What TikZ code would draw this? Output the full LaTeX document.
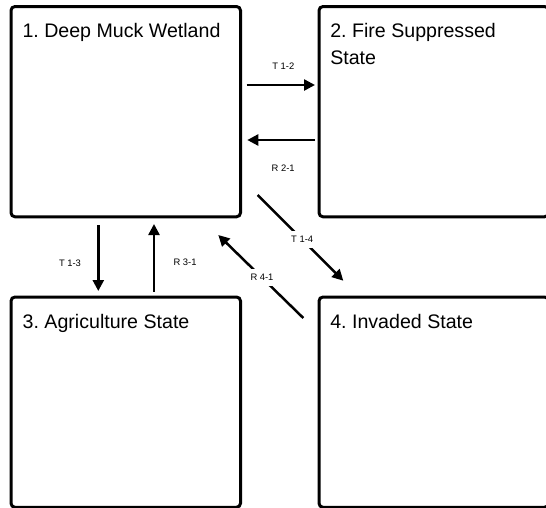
\documentclass[tikz,border=0pt]{standalone}
\usepackage{fontspec}
\setmainfont{Liberation Sans}
\usetikzlibrary{arrows.meta}
\frenchspacing
\begin{document}
\begin{tikzpicture}[x=1pt,y=-1pt,
 statebox/.style={draw=black, line width=3pt, rounded corners=4pt, minimum width=229.5pt, minimum height=210.3pt, inner sep=0pt, outer sep=0pt},
 titletext/.style={anchor=base west, inner sep=0pt, font=\fontsize{19.6}{26.7}\selectfont, align=left},
 conn/.style={line width=2.5pt, -{Triangle[length=11pt,width=11pt]}},
 lbl/.style={font=\fontsize{9.4}{11}\selectfont, inner sep=0pt},
 cutlbl/.style={lbl, fill=white, inner sep=5.5pt}]
\useasboundingbox (0,0) rectangle (546,507);
\clip (0,0) rectangle (546,507);
\fill[white] (0,0) rectangle (546,507);
% boxes
\node[statebox] (b1) at (125.75,111.65) {};
\node[statebox] (b2) at (433.75,111.65) {};
\node[statebox] (b3) at (125.75,402.15) {};
\node[statebox] (b4) at (433.75,402.15) {};
% titles
\node[titletext] (t1) at (22.3,37.7) {1. Deep Muck Wetland};
\node[titletext] (t2) at (330.1,64.4) {2. Fire Suppressed\\State};
\node[titletext] (t3) at (22.5,328.4) {3. Agriculture State};
\node[titletext] (t4) at (330.1,328.8) {4. Invaded State};
% connector end points
\coordinate (a12s) at (246.7,85);
\coordinate (a12e) at (315,85);
\coordinate (a21s) at (315,140);
\coordinate (a21e) at (247.3,140);
\coordinate (a13s) at (98.3,225);
\coordinate (a13e) at (98.3,291);
\coordinate (a31s) at (154,291.7);
\coordinate (a31e) at (154,224);
\coordinate (a14s) at (257.7,195);
\coordinate (a14e) at (343.3,280.7);
\coordinate (a41s) at (303.3,318);
\coordinate (a41e) at (218.3,235);
% connectors
\draw[conn] (a12s) -- node[lbl, midway, xshift=2.5pt, yshift=19pt] (l12) {T 1-2} (a12e);
\draw[conn] (a21s) -- node[lbl, midway, xshift=2pt, yshift=-28.3pt] (l21) {R 2-1} (a21e);
\draw[conn] (a13s) -- node[lbl, midway, xshift=-28.3pt, yshift=-5.3pt] (l13) {T 1-3} (a13e);
\draw[conn] (a31s) -- node[lbl, midway, xshift=31pt, yshift=-4.8pt] (l31) {R 3-1} (a31e);
\draw[conn] (a14s) -- node[cutlbl, pos=0.52] (l14) {T 1-4} (a14e);
\draw[conn] (a41s) -- node[cutlbl, pos=0.486] (l41) {R 4-1} (a41e);
\end{tikzpicture}
\end{document}
